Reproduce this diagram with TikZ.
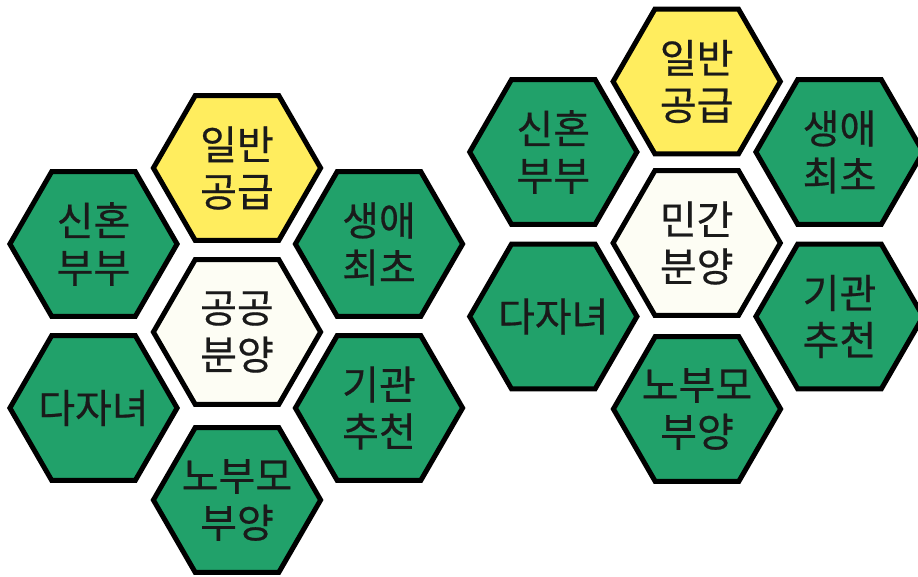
\documentclass[tikz,border=0pt]{standalone}
\usepackage{fontspec}
\newfontfamily\kr[FakeBold=0.5]{Noto Sans CJK KR}
\usetikzlibrary{shapes.geometric}
\definecolor{hexgreen}{RGB}{33,161,106}
\definecolor{hexyellow}{RGB}{255,237,94}
\definecolor{hexcream}{RGB}{253,253,244}
\definecolor{txt}{RGB}{26,26,26}
\tikzset{
  hexbase/.style={regular polygon, regular polygon sides=6, minimum size=167.2pt,
    inner sep=0pt, outer sep=0pt, draw=black, line width=5pt},
  hexlabel/.style={text=txt, align=center, font=\kr\fontsize{40}{47}\selectfont, inner sep=0pt},
  hexg/.style={hexbase, fill=hexgreen},
  hexy/.style={hexbase, fill=hexyellow},
  hexc/.style={hexbase, fill=hexcream},
}
\newcommand{\hexat}[4]{% style, name, position, text
  \node[#1] (#2) at (#3) {};
  \node[hexlabel] (#2-t) at (#2.center) {#4};
}
\begin{document}
\begin{tikzpicture}[x=1pt,y=-1pt]
\useasboundingbox (0,0) rectangle (918,576);
% left cluster
\hexat{hexy}{l1}{237,168}{일반\\공급}
\hexat{hexg}{l2}{93.5,244}{신혼\\부부}
\hexat{hexg}{l3}{379,244}{생애\\최초}
\hexat{hexc}{l4}{237,332}{공공\\분양}
\hexat{hexg}{l5}{93.5,408}{다자녀}
\hexat{hexg}{l6}{379,408}{기관\\추천}
\hexat{hexg}{l7}{237,500}{노부모\\부양}
% right cluster
\hexat{hexy}{r1}{696.7,81.5}{일반\\공급}
\hexat{hexg}{r2}{553.3,152}{신혼\\부부}
\hexat{hexg}{r3}{839.5,152}{생애\\최초}
\hexat{hexc}{r4}{696.7,243}{민간\\분양}
\hexat{hexg}{r5}{553.3,316.5}{다자녀}
\hexat{hexg}{r6}{839.5,316.5}{기관\\추천}
\hexat{hexg}{r7}{697,409}{노부모\\부양}
\end{tikzpicture}
\end{document}
